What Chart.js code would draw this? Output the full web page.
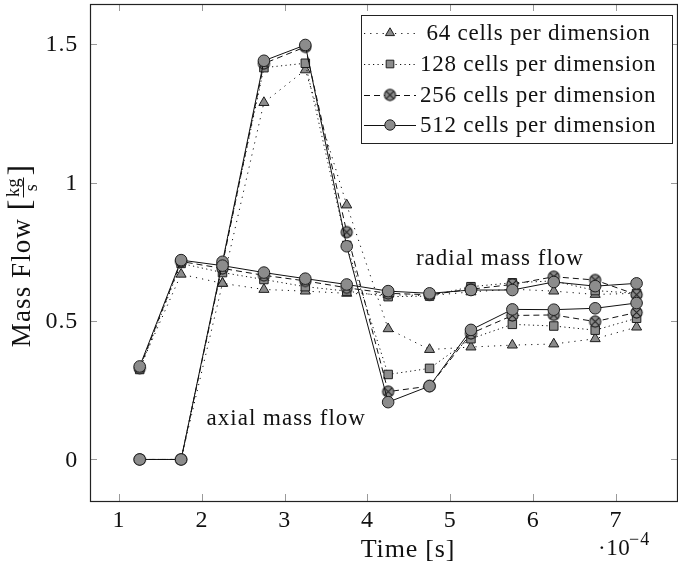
<!DOCTYPE html>
<html>
<head>
<meta charset="utf-8">
<script src="https://cdn.jsdelivr.net/npm/chart.js@4.4.0/dist/chart.umd.min.js"></script>
<style>
  html, body { margin: 0; padding: 0; background: #fff; overflow: hidden; }
  #wrap { width: 678px; height: 578px; }
</style>
</head>
<body>
<div id="wrap"><canvas id="massFlowChart" width="678" height="578"></canvas></div>
<script>
// time in units of 1e-4 s
const times = [1.25, 1.75, 2.25, 2.75, 3.25, 3.75, 4.25, 4.75, 5.25, 5.75, 6.25, 6.75, 7.25];

const axial64  = [0, 0, 0.636, 1.289, 1.407, 0.919, 0.472, 0.397, 0.406, 0.413, 0.417, 0.436, 0.478];
const axial128 = [0, 0, 0.710, 1.415, 1.431, 0.773, 0.307, 0.329, 0.436, 0.488, 0.482, 0.467, 0.510];
const axial256 = [0, 0, 0.705, 1.430, 1.490, 0.821, 0.245, 0.265, 0.455, 0.520, 0.522, 0.498, 0.531];
const axial512 = [0, 0, 0.714, 1.440, 1.497, 0.770, 0.207, 0.265, 0.468, 0.542, 0.541, 0.546, 0.565];

const radial64  = [0.330, 0.669, 0.636, 0.614, 0.608, 0.600, 0.595, 0.592, 0.605, 0.615, 0.608, 0.596, 0.600];
const radial128 = [0.325, 0.708, 0.675, 0.650, 0.624, 0.608, 0.588, 0.590, 0.624, 0.638, 0.645, 0.610, 0.600];
const radial256 = [0.330, 0.715, 0.690, 0.665, 0.645, 0.620, 0.600, 0.595, 0.615, 0.632, 0.660, 0.648, 0.595];
const radial512 = [0.336, 0.720, 0.700, 0.675, 0.653, 0.632, 0.608, 0.600, 0.612, 0.612, 0.641, 0.626, 0.636];

const seriesLabels = [' 64 cells per dimension', '128 cells per dimension', '256 cells per dimension', '512 cells per dimension'];
const xTicks = [1, 2, 3, 4, 5, 6, 7];
const yTicks = [0, 0.5, 1, 1.5];
const yTickLabels = ['0', '0.5', '1', '1.5'];

const FONT = "'Liberation Serif', 'DejaVu Serif', serif";
const MARK_FILL = '#8c8c8c';
const MARK_EDGE = '#1e1e1e';

// circle with an x through it (pgfplots otimes)
const makeOtimes = (r) => {
    const c = document.createElement('canvas');
    const s = Math.ceil(r * 2 + 3);
    c.width = s; c.height = s;
    const g = c.getContext('2d');
    const m = s / 2;
    g.beginPath();
    g.arc(m, m, r, 0, Math.PI * 2);
    g.fillStyle = MARK_FILL;
    g.fill();
    g.lineWidth = 1.1;
    g.strokeStyle = MARK_EDGE;
    g.stroke();
    const d = r * Math.SQRT1_2;
    g.beginPath();
    g.moveTo(m - d, m - d); g.lineTo(m + d, m + d);
    g.moveTo(m + d, m - d); g.lineTo(m - d, m + d);
    g.stroke();
    return c;
};
const otimes = makeOtimes(5.6);

const styles = [
    { pointStyle: 'triangle', radius: 5.8, dash: [1.2, 5] },
    { pointStyle: 'rect', radius: 6, dash: [1.2, 3.3] },
    { pointStyle: otimes, radius: 5.8, dash: [6, 4] },
    { pointStyle: 'circle', radius: 5.8, dash: [] }
];

const toPoints = (ys) => times.map((t, i) => ({ x: t, y: ys[i] }));

const makeDataset = (ys, idx, part) => ({
    label: seriesLabels[idx] + ' ' + part,
    data: toPoints(ys),
    borderColor: '#111',
    borderWidth: 1,
    borderDash: styles[idx].dash,
    backgroundColor: MARK_FILL,
    pointStyle: styles[idx].pointStyle,
    pointRadius: styles[idx].radius,
    pointBackgroundColor: MARK_FILL,
    pointBorderColor: MARK_EDGE,
    pointBorderWidth: 1,
    tension: 0,
    order: 4 - idx
});

const datasets = [
    makeDataset(radial64, 0, 'radial'), makeDataset(axial64, 0, 'axial'),
    makeDataset(radial128, 1, 'radial'), makeDataset(axial128, 1, 'axial'),
    makeDataset(radial256, 2, 'radial'), makeDataset(axial256, 2, 'axial'),
    makeDataset(radial512, 3, 'radial'), makeDataset(axial512, 3, 'axial')
];

const setFont = (ctx, size, spacing) => {
    ctx.font = size + 'px ' + FONT;
    ctx.letterSpacing = (spacing || 0) + 'px';
};

// frame, inward ticks, tick labels, legend box, annotations, axis titles
const decorations = {
    id: 'decorations',
    afterDatasetsDraw(chart) {
        const ctx = chart.ctx;
        const a = chart.chartArea;
        const xs = chart.scales.x, ys = chart.scales.y;
        ctx.save();

        // tick marks on all four sides, pointing inward
        ctx.strokeStyle = '#9a9a9a';
        ctx.lineWidth = 1;
        ctx.beginPath();
        xTicks.forEach(v => {
            const px = Math.round(xs.getPixelForValue(v)) + 0.5;
            ctx.moveTo(px, a.bottom); ctx.lineTo(px, a.bottom - 7);
            ctx.moveTo(px, a.top); ctx.lineTo(px, a.top + 7);
        });
        yTicks.forEach(v => {
            const py = Math.round(ys.getPixelForValue(v)) + 0.5;
            ctx.moveTo(a.left, py); ctx.lineTo(a.left + 7, py);
            ctx.moveTo(a.right, py); ctx.lineTo(a.right - 7, py);
        });
        ctx.stroke();

        // frame
        ctx.strokeStyle = '#222';
        ctx.lineWidth = 1.2;
        ctx.strokeRect(a.left + 0.5, a.top + 0.5, a.right - a.left - 1, a.bottom - a.top);

        // tick labels
        ctx.fillStyle = '#111';
        setFont(ctx, 24, 0.8);
        ctx.textBaseline = 'middle';
        ctx.textAlign = 'center';
        xTicks.forEach(v => ctx.fillText(String(v), xs.getPixelForValue(v), a.bottom + 20));
        ctx.textAlign = 'right';
        yTicks.forEach((v, i) => ctx.fillText(yTickLabels[i], a.left - 12, ys.getPixelForValue(v) + 1));

        // annotations
        setFont(ctx, 23, 1);
        ctx.textAlign = 'center';
        ctx.fillText('radial mass flow', xs.getPixelForValue(5.6), ys.getPixelForValue(0.723));
        ctx.fillText('axial mass flow', xs.getPixelForValue(3.02), ys.getPixelForValue(0.145));

        // legend
        const lx = 361, ly = 15, lw = 311, lh = 128;
        ctx.fillStyle = '#fff';
        ctx.fillRect(lx, ly, lw, lh);
        ctx.strokeStyle = '#222';
        ctx.lineWidth = 1;
        ctx.strokeRect(lx + 0.5, ly + 0.5, lw, lh);
        const rowY = [33, 64, 95, 125];
        seriesLabels.forEach((txt, i) => {
            const y = rowY[i];
            ctx.strokeStyle = '#111';
            ctx.lineWidth = 1;
            ctx.setLineDash(styles[i].dash);
            ctx.beginPath();
            ctx.moveTo(364, y + 0.5); ctx.lineTo(416, y + 0.5);
            ctx.stroke();
            ctx.setLineDash([]);
            ctx.fillStyle = MARK_FILL;
            ctx.strokeStyle = MARK_EDGE;
            ctx.lineWidth = 1;
            Chart.helpers.drawPoint(ctx, {
                pointStyle: styles[i].pointStyle,
                radius: styles[i].radius - 0.6,
                rotation: 0,
                borderWidth: 1
            }, 390, y);
            ctx.fillStyle = '#111';
            setFont(ctx, 23, 0.75);
            ctx.textAlign = 'left';
            ctx.textBaseline = 'middle';
            ctx.fillText(txt, 420, y + 1);
        });

        // axis titles
        ctx.fillStyle = '#111';
        setFont(ctx, 26, 0.8);
        ctx.textAlign = 'center';
        ctx.textBaseline = 'middle';
        ctx.fillText('Time [s]', 408, 550);

        setFont(ctx, 23, 0.5);
        ctx.textAlign = 'left';
        ctx.fillText('\u00b710', 598, 549);
        setFont(ctx, 18, 1);
        ctx.fillText('\u22124', 629, 540);

        // y title with stacked kg/s fraction
        ctx.translate(22, 256);
        ctx.rotate(-Math.PI / 2);
        setFont(ctx, 27, 1.1);
        const main = 'Mass Flow ';
        const wMain = ctx.measureText(main).width;
        setFont(ctx, 32, 0);
        const wOpen = ctx.measureText('[').width;
        const wClose = ctx.measureText(']').width;
        const wFrac = 24;
        const total = wMain + wOpen + wFrac + wClose;
        let cx = -total / 2;
        ctx.textAlign = 'left';
        setFont(ctx, 27, 1.1);
        ctx.fillText(main, cx, 1);
        cx += wMain;
        setFont(ctx, 32, 0);
        ctx.fillText('[', cx, 0);
        cx += wOpen;
        setFont(ctx, 18, 0.4);
        ctx.textAlign = 'center';
        ctx.fillText('kg', cx + wFrac / 2, -8);
        ctx.fillText('s', cx + wFrac / 2, 10);
        ctx.fillRect(cx + 2, 1, wFrac - 4, 1);
        cx += wFrac;
        setFont(ctx, 32, 0);
        ctx.textAlign = 'left';
        ctx.fillText(']', cx, 0);

        ctx.restore();
    }
};

new Chart(document.getElementById('massFlowChart').getContext('2d'), {
    type: 'line',
    data: { datasets: datasets },
    options: {
        responsive: false,
        animation: false,
        layout: { autoPadding: false, padding: { top: 4, right: 0, left: 0, bottom: 0 } },
        plugins: {
            legend: { display: false },
            tooltip: { enabled: false }
        },
        scales: {
            x: {
                type: 'linear',
                min: 0.65,
                max: 7.75,
                grid: { display: false, drawTicks: false },
                border: { display: false },
                afterBuildTicks: (s) => { s.ticks = xTicks.map(v => ({ value: v })); },
                afterFit: (s) => { s.height = 77; },
                ticks: { display: false }
            },
            y: {
                type: 'linear',
                min: -0.15,
                max: 1.645,
                grid: { display: false, drawTicks: false },
                border: { display: false },
                afterBuildTicks: (s) => { s.ticks = yTicks.map(v => ({ value: v })); },
                afterFit: (s) => { s.width = 90; },
                ticks: { display: false }
            }
        }
    },
    plugins: [decorations]
});
</script>
</body>
</html>
